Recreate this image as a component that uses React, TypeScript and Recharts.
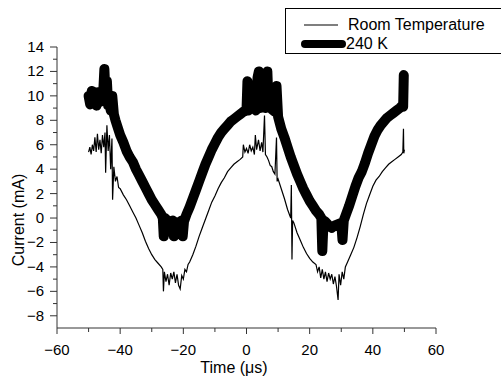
import React from 'react';
import { LineChart, Line, XAxis, YAxis, Legend } from 'recharts';

// Room temperature trace (thin), time in µs, current in mA
const roomTime = [
  -50.0, -49.6, -49.2, -48.8, -48.4, -48.0, -47.6, -47.2, -46.8, -46.4, -46.0, -45.6, -45.2, -44.8, -44.6,
  -44.2, -43.8, -43.4, -43.0, -42.6, -42.4, -42.0, -41.5, -41.0, -40.5, -40.0, -39.0, -38.0, -37.0, -36.0,
  -35.0, -34.0, -33.0, -32.0, -31.0, -30.0, -29.0, -28.0, -27.0, -26.5, -26.3, -26.0, -25.5, -25.0, -24.5,
  -24.0, -23.5, -23.0, -22.5, -22.0, -21.5, -21.0, -20.5, -20.0, -19.5, -19.0, -18.5, -18.0, -17.0, -16.0,
  -15.0, -14.0, -13.0, -12.0, -11.0, -10.0, -9.0, -8.0, -7.0, -6.0, -5.0, -4.0, -3.0, -2.0, -1.2,
  -1.0, -0.5, 0.0, 0.5, 1.0, 1.5, 2.0, 2.5, 2.8, 3.2, 3.8, 4.3, 4.8, 5.2, 5.7,
  6.0, 6.5, 7.0, 7.5, 8.0, 8.5, 9.0, 9.5, 9.7, 10.0, 11.0, 12.0, 13.0, 14.0, 14.2,
  14.4, 14.6, 15.0, 16.0, 17.0, 18.0, 19.0, 20.0, 21.0, 22.0, 22.5, 23.0, 23.5, 24.0, 24.5,
  25.0, 25.5, 26.0, 26.5, 27.0, 27.5, 28.0, 28.5, 29.0, 29.3, 29.8, 30.3, 30.8, 31.3, 32.0,
  33.0, 34.0, 35.0, 36.0, 37.0, 38.0, 39.0, 40.0, 41.0, 42.0, 43.0, 44.0, 45.0, 46.0, 47.0,
  48.0, 49.0, 49.5, 49.7, 49.8, 50.0,
];
const roomCurrent = [
  5.4, 5.8, 5.2, 6.0, 5.5, 6.6, 5.4, 6.9, 5.6, 6.4, 5.3, 6.8, 5.8, 7.0, 3.7,
  7.6, 5.5, 6.8, 4.0, 6.5, 1.5, 4.2, 3.0, 3.4, 2.5, 2.4, 1.9, 1.5, 1.0, 0.5,
  0.0, -0.6, -1.2, -1.9, -2.5, -3.0, -3.4, -3.7, -4.0, -4.2, -6.0, -4.4, -5.2, -4.6, -5.5,
  -4.5, -5.0, -4.4, -5.3, -4.6, -5.5, -5.8, -4.7, -5.0, -4.2, -4.4, -3.8, -3.6, -3.0, -2.3,
  -1.5, -0.8, -0.1, 0.6, 1.3, 1.8, 2.4, 2.9, 3.3, 3.8, 4.1, 4.4, 4.6, 4.8, 5.0,
  6.0, 5.4, 5.7, 5.3, 6.0, 5.5, 5.8, 5.2, 6.8, 5.6, 6.4, 5.5, 6.2, 5.4, 8.4,
  5.2, 5.0, 4.7, 4.3, 4.2, 3.8, 3.6, 6.6, 3.0, 3.2, 2.4, 1.6, 0.7, 0.0, 2.7,
  -3.4, -0.2, -0.4, -1.2, -1.8, -2.4, -2.9, -3.3, -3.6, -3.8, -4.4, -4.0, -4.9, -4.2, -5.0,
  -4.4, -5.2, -4.5, -5.0, -4.6, -5.4, -4.8, -5.6, -6.7, -4.6, -5.5, -4.4, -5.0, -4.0, -3.6,
  -3.0, -2.4, -1.6, -0.7, 0.3, 1.2, 1.9, 2.6, 3.1, 3.4, 3.8, 4.1, 4.4, 4.6, 4.8,
  5.0, 5.2, 5.4, 7.3, 5.3, 5.6,
];

// 240 K trace (thick)
const coldTime = [
  -50.0, -49.5, -49.0, -48.5, -48.0, -47.5, -47.0, -46.5, -46.0, -45.5, -45.0, -44.6, -44.2, -43.8, -43.4,
  -43.0, -42.5, -42.0, -41.5, -41.0, -40.0, -39.0, -38.0, -37.0, -36.0, -35.0, -34.0, -33.0, -32.0, -31.0,
  -30.0, -29.0, -28.0, -27.0, -26.5, -26.2, -25.8, -25.0, -24.0, -23.3, -23.0, -22.7, -22.0, -21.0, -20.5,
  -20.2, -19.8, -19.0, -18.0, -17.0, -16.0, -15.0, -14.0, -13.0, -12.0, -11.0, -10.0, -9.0, -8.0, -7.0,
  -6.0, -5.0, -4.0, -3.0, -2.0, -1.0, 0.0, 0.3, 0.6, 1.5, 2.5, 3.0, 3.5, 3.9, 4.3,
  5.0, 6.0, 6.6, 7.0, 8.0, 9.0, 9.5, 10.0, 10.5, 11.0, 12.0, 13.0, 14.0, 15.0, 16.0,
  17.0, 18.0, 19.0, 20.0, 21.0, 22.0, 23.0, 23.7, 24.0, 24.4, 25.0, 26.0, 27.0, 28.0, 29.0,
  30.0, 30.4, 30.8, 31.5, 32.5, 33.5, 34.5, 35.5, 36.5, 37.5, 38.5, 39.5, 40.5, 41.5, 42.5,
  43.5, 44.5, 45.5, 46.5, 47.5, 48.5, 49.3, 49.6, 49.8,
];
const coldCurrent = [
  10.0, 9.3, 10.4, 9.4, 10.3, 9.2, 10.3, 9.5, 10.2, 9.6, 12.2, 9.8, 11.2, 9.2, 9.8,
  8.8, 10.0, 8.5, 8.0, 7.6, 6.8, 6.2, 5.5, 5.0, 4.6, 4.0, 3.5, 3.0, 2.5, 2.0,
  1.5, 1.1, 0.7, 0.3, 0.0, -1.5, 0.0, -0.2, -0.3, -0.2, -1.5, -0.3, -0.5, -0.3, -0.2,
  -1.5, -0.3, 0.3, 0.9, 1.6, 2.3, 3.0, 3.7, 4.4, 5.0, 5.6, 6.1, 6.6, 7.0, 7.3,
  7.6, 7.9, 8.1, 8.3, 8.5, 8.7, 8.8, 11.2, 8.8, 9.0, 9.1, 8.8, 11.5, 12.0, 9.0,
  9.3, 9.0, 12.0, 9.2, 8.9, 8.7, 10.8, 8.3, 7.8, 7.3, 6.6, 5.8, 5.0, 4.3, 3.6,
  3.0, 2.4, 1.9, 1.4, 1.0, 0.6, 0.3, 0.0, -2.7, -0.2, -0.3, -0.6, -0.8, -0.6, -0.5,
  -0.4, -1.8, -0.2, 0.3, 1.0, 1.8, 2.6, 3.3, 3.8, 4.5, 5.3, 6.0, 6.7, 7.2, 7.6,
  7.9, 8.2, 8.4, 8.6, 8.8, 9.0, 9.2, 9.1, 11.7,
];

const xTicks = [-60, -50, -40, -30, -20, -10, 0, 10, 20, 30, 40, 50, 60];
const yTicks = [-8, -7, -6, -5, -4, -3, -2, -1, 0, 1, 2, 3, 4, 5, 6, 7, 8, 9, 10, 11, 12, 13, 14];

const roomData = roomTime.map((t, i) => ({ t, i: roomCurrent[i] }));
const coldData = coldTime.map((t, i) => ({ t, i: coldCurrent[i] }));

const FONT = '"Liberation Sans", Arial, sans-serif';
const AXIS = '#333';

const fmt = (v: number) => (v < 0 ? '\u2212' + Math.abs(v) : String(v));

const XTick = (props: any) => {
  const { x, y, payload } = props;
  const v = payload.value;
  const major = v % 20 === 0;
  return (
    <g>
      <line x1={x} x2={x} y1={y} y2={y + (major ? 6 : 4)} stroke={AXIS} />
      {major && (
        <text x={x} y={y + 27} textAnchor="middle" fontSize={15} fontFamily={FONT} fill="#000">
          {fmt(v)}
        </text>
      )}
    </g>
  );
};

const YTick = (props: any) => {
  const { x, y, payload } = props;
  const v = payload.value;
  const major = v % 2 === 0;
  return (
    <g>
      <line x1={x} x2={x - (major ? 7 : 4)} y1={y} y2={y} stroke={AXIS} />
      {major && (
        <text x={x - 13} y={y + 5} textAnchor="end" fontSize={15} fontFamily={FONT} fill="#000">
          {fmt(v)}
        </text>
      )}
    </g>
  );
};

const LegendBox = () => (
  <div style={{ width: 220, height: 44, border: '1px solid #000', background: '#fff' }}>
    <svg width={220} height={44} style={{ overflow: 'visible', display: 'block' }}>
      <line x1={18} x2={52} y1={16} y2={16} stroke="#000" strokeWidth={1.2} />
      <text x={62} y={21} fontSize={16} fontFamily={FONT} fill="#000">Room Temperature</text>
      <line x1={19} x2={56} y1={35} y2={35} stroke="#000" strokeWidth={8} strokeLinecap="round" />
      <text x={60} y={40} fontSize={16} fontFamily={FONT} fill="#000">240 K</text>
    </svg>
  </div>
);

export default function App() {
  return (
    <div style={{ position: 'absolute', left: 0, top: 0, width: 501, height: 376, background: '#fff' }}>
      <LineChart width={501} height={376} margin={{ top: 47, right: 65, bottom: 0, left: 0 }}>
        <XAxis
          dataKey="t"
          type="number"
          domain={[-60, 60]}
          ticks={xTicks}
          interval={0}
          height={48}
          tickSize={0}
          tickMargin={0}
          tickLine={false}
          stroke={AXIS}
          tick={<XTick />}
          allowDataOverflow
          label={() => (
            <text x={234} y={373} textAnchor="middle" fontSize={16} fontFamily={FONT} fill="#000">
              Time (μs)
            </text>
          )}
        />
        <YAxis
          dataKey="i"
          type="number"
          domain={[-9, 14]}
          ticks={yTicks}
          interval={0}
          width={57}
          tickSize={0}
          tickMargin={0}
          tickLine={false}
          stroke={AXIS}
          tick={<YTick />}
          allowDataOverflow
          label={() => (
            <text
              x={24}
              y={220}
              transform="rotate(-90, 24, 220)"
              textAnchor="middle"
              fontSize={16}
              fontFamily={FONT}
              fill="#000"
            >
              Current (mA)
            </text>
          )}
        />
        <Legend
          layout="vertical"
          align="center"
          verticalAlign="middle"
          wrapperStyle={{ left: 285, top: 8, width: 222 }}
          content={() => <LegendBox />}
        />
        <Line
          data={roomData}
          dataKey="i"
          name="Room Temperature"
          stroke="#000"
          strokeWidth={1.2}
          dot={false}
          type="linear"
          isAnimationActive={false}
        />
        <Line
          data={coldData}
          dataKey="i"
          name="240 K"
          stroke="#000"
          strokeWidth={10}
          strokeLinejoin="round"
          strokeLinecap="round"
          dot={false}
          type="linear"
          isAnimationActive={false}
        />
      </LineChart>
    </div>
  );
}
